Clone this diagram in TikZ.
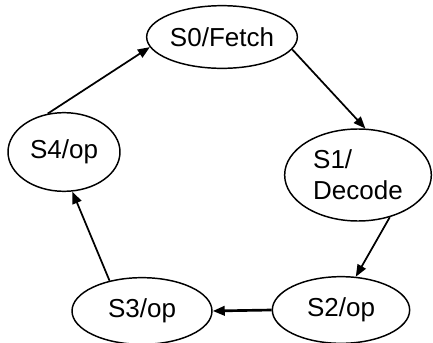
\documentclass[tikz,border=0pt]{standalone}
\usepackage{fontspec}
\setmainfont{Liberation Sans}
\usepackage{tikz}
\usetikzlibrary{shapes.geometric,arrows.meta}

\begin{document}
\begin{tikzpicture}[x=0.75pt,y=0.75pt,yscale=-1,xscale=1,
  state/.style={ellipse,draw,line width=1.1pt,inner sep=0pt,font=\fontsize{19.5}{23}\selectfont},
  trans/.style={line width=1.3pt,-{Triangle[length=9pt,width=7pt]}}]
\path[use as bounding box] (0,0) rectangle (433,343);

%Ellipses
\node [state,minimum width=113pt,minimum height=47pt] (s0) at (222,37) {S0/Fetch};
\node [state,minimum width=110pt,minimum height=69pt,align=left] (s1) at (358,175) {S1/\\Decode};
\node [state,minimum width=103pt,minimum height=50pt] (s2) at (341,310) {S2/op};
\node [state,minimum width=105pt,minimum height=50pt] (s3) at (142,311) {S3/op};
\node [state,minimum width=84pt,minimum height=59pt] (s4) at (64,152) {S4/op};

%Straight Lines
\draw [trans] (s4.113) -- (s0.188);
\draw [trans] (s0.350) -- (s1.81);
\draw [trans] (s1.307) -- (s2.66);
\draw [trans,line width=2pt] (s2.west) -- (s3.east);
\draw [trans] (s3.137) -- (s4.282);

\end{tikzpicture}
\end{document}
